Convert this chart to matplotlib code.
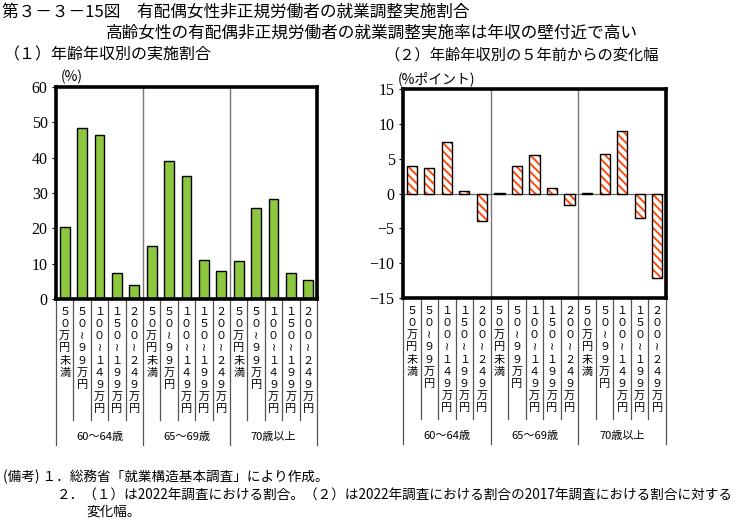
import matplotlib.pyplot as plt

plt.rcParams['font.family'] = ['Noto Sans CJK JP', 'DejaVu Sans']
plt.rcParams['hatch.linewidth'] = 1.4

# data
groups = ['60～64歳', '65～69歳', '70歳以上']
incomes = ['５０万円未満', '５０≀９９万円', '１００≀１４９万円', '１５０≀１９９万円', '２００≀２４９万円']
rate_2022 = [20.5, 48.5, 46.4, 7.5, 4.0,
             14.9, 39.1, 34.7, 11.1, 7.9,
             10.8, 25.8, 28.4, 7.5, 5.3]
change_5y = [3.9, 3.7, 7.4, 0.4, -3.9,
             0.1, 4.0, 5.5, 0.8, -1.6,
             0.1, 5.6, 9.0, -3.5, -12.2]

green = '#8DC63F'
orange = '#FF4A0A'
serif = 'Liberation Serif'

fig = plt.figure(figsize=(7.42, 5.22), dpi=100)
ax1 = fig.add_axes([56/742, 1-299/522, 261/742, 212/522])
ax2 = fig.add_axes([403/742, 1-298/522, 263/742, 209/522])

x = list(range(len(rate_2022)))

ax1.bar(x, rate_2022, width=0.56, color=green, edgecolor='black', linewidth=1.0, zorder=3)
ax1.set_ylim(0, 60)
ax1.set_yticks(range(0, 61, 10))

ax2.bar(x, change_5y, width=0.58, color='white', edgecolor=orange, hatch='\\\\\\\\',
        linewidth=0, zorder=3)
ax2.bar(x, change_5y, width=0.58, color='none', edgecolor='black', linewidth=1.0, zorder=4)
ax2.axhline(0, color='#666666', linewidth=0.9, zorder=2)
ax2.set_ylim(-15, 15)
ax2.set_yticks(range(-15, 16, 5))

for ax, h, unit in [(ax1, 212, '(%)'), (ax2, 209, '(%ポイント)')]:
    ax.set_xlim(-0.5, 14.5)
    ax.set_xticks([])
    for s in ax.spines.values():
        s.set_linewidth(2.6)
        s.set_zorder(5)
    ax.tick_params(axis='y', length=3, width=0.8, direction='out', pad=3)
    for t in ax.get_yticklabels():
        t.set_family(serif)
        t.set_fontsize(11.5)
    for b in [4.5, 9.5]:
        ax.axvline(b, color='#777777', linewidth=1.0, zorder=2)
    tr = ax.get_xaxis_transform()
    # category label separators
    for i in range(16):
        b = i - 0.5
        depth = 146 if i % 5 == 0 else 121
        ax.plot([b, b], [0, -depth/h], transform=tr, color='#555555', linewidth=0.9, clip_on=False)
    for i in x:
        lab = incomes[i % 5]
        ax.text(i, -8/h, '\n'.join(lab), transform=tr, ha='center', va='top',
                fontsize=8, linespacing=1.27)
    for g, name in enumerate(groups):
        ax.text(g*5 + 2, -138/h, name, transform=tr, ha='center', va='center', fontsize=8)
    ax.text(0.02 if ax is ax1 else -0.02, 1.012, unit, transform=ax.transAxes,
            ha='left', va='bottom', fontsize=10)

fig.text(2/742, 1-12/522, '第３－３－15図　有配偶女性非正規労働者の就業調整実施割合',
         fontsize=12, va='center', ha='left')
fig.text(372/742, 1-33/522, '高齢女性の有配偶非正規労働者の就業調整実施率は年収の壁付近で高い',
         fontsize=12, va='center', ha='center')
fig.text(4/742, 1-55/522, '（１）年齢年収別の実施割合', fontsize=11.5, va='center', ha='left')
fig.text(384/742, 1-55/522, '（２）年齢年収別の５年前からの変化幅', fontsize=11, va='center', ha='left')

fig.text(3/742, 1-477/522, '(備考) １．総務省「就業構造基本調査」により作成。', fontsize=9.8, va='center')
fig.text(57/742, 1-495/522, '２．（１）は2022年調査における割合。（２）は2022年調査における割合の2017年調査における割合に対する',
         fontsize=9.8, va='center')
fig.text(86/742, 1-512/522, '変化幅。', fontsize=9.8, va='center')

fig.savefig('out.png', dpi=100)
